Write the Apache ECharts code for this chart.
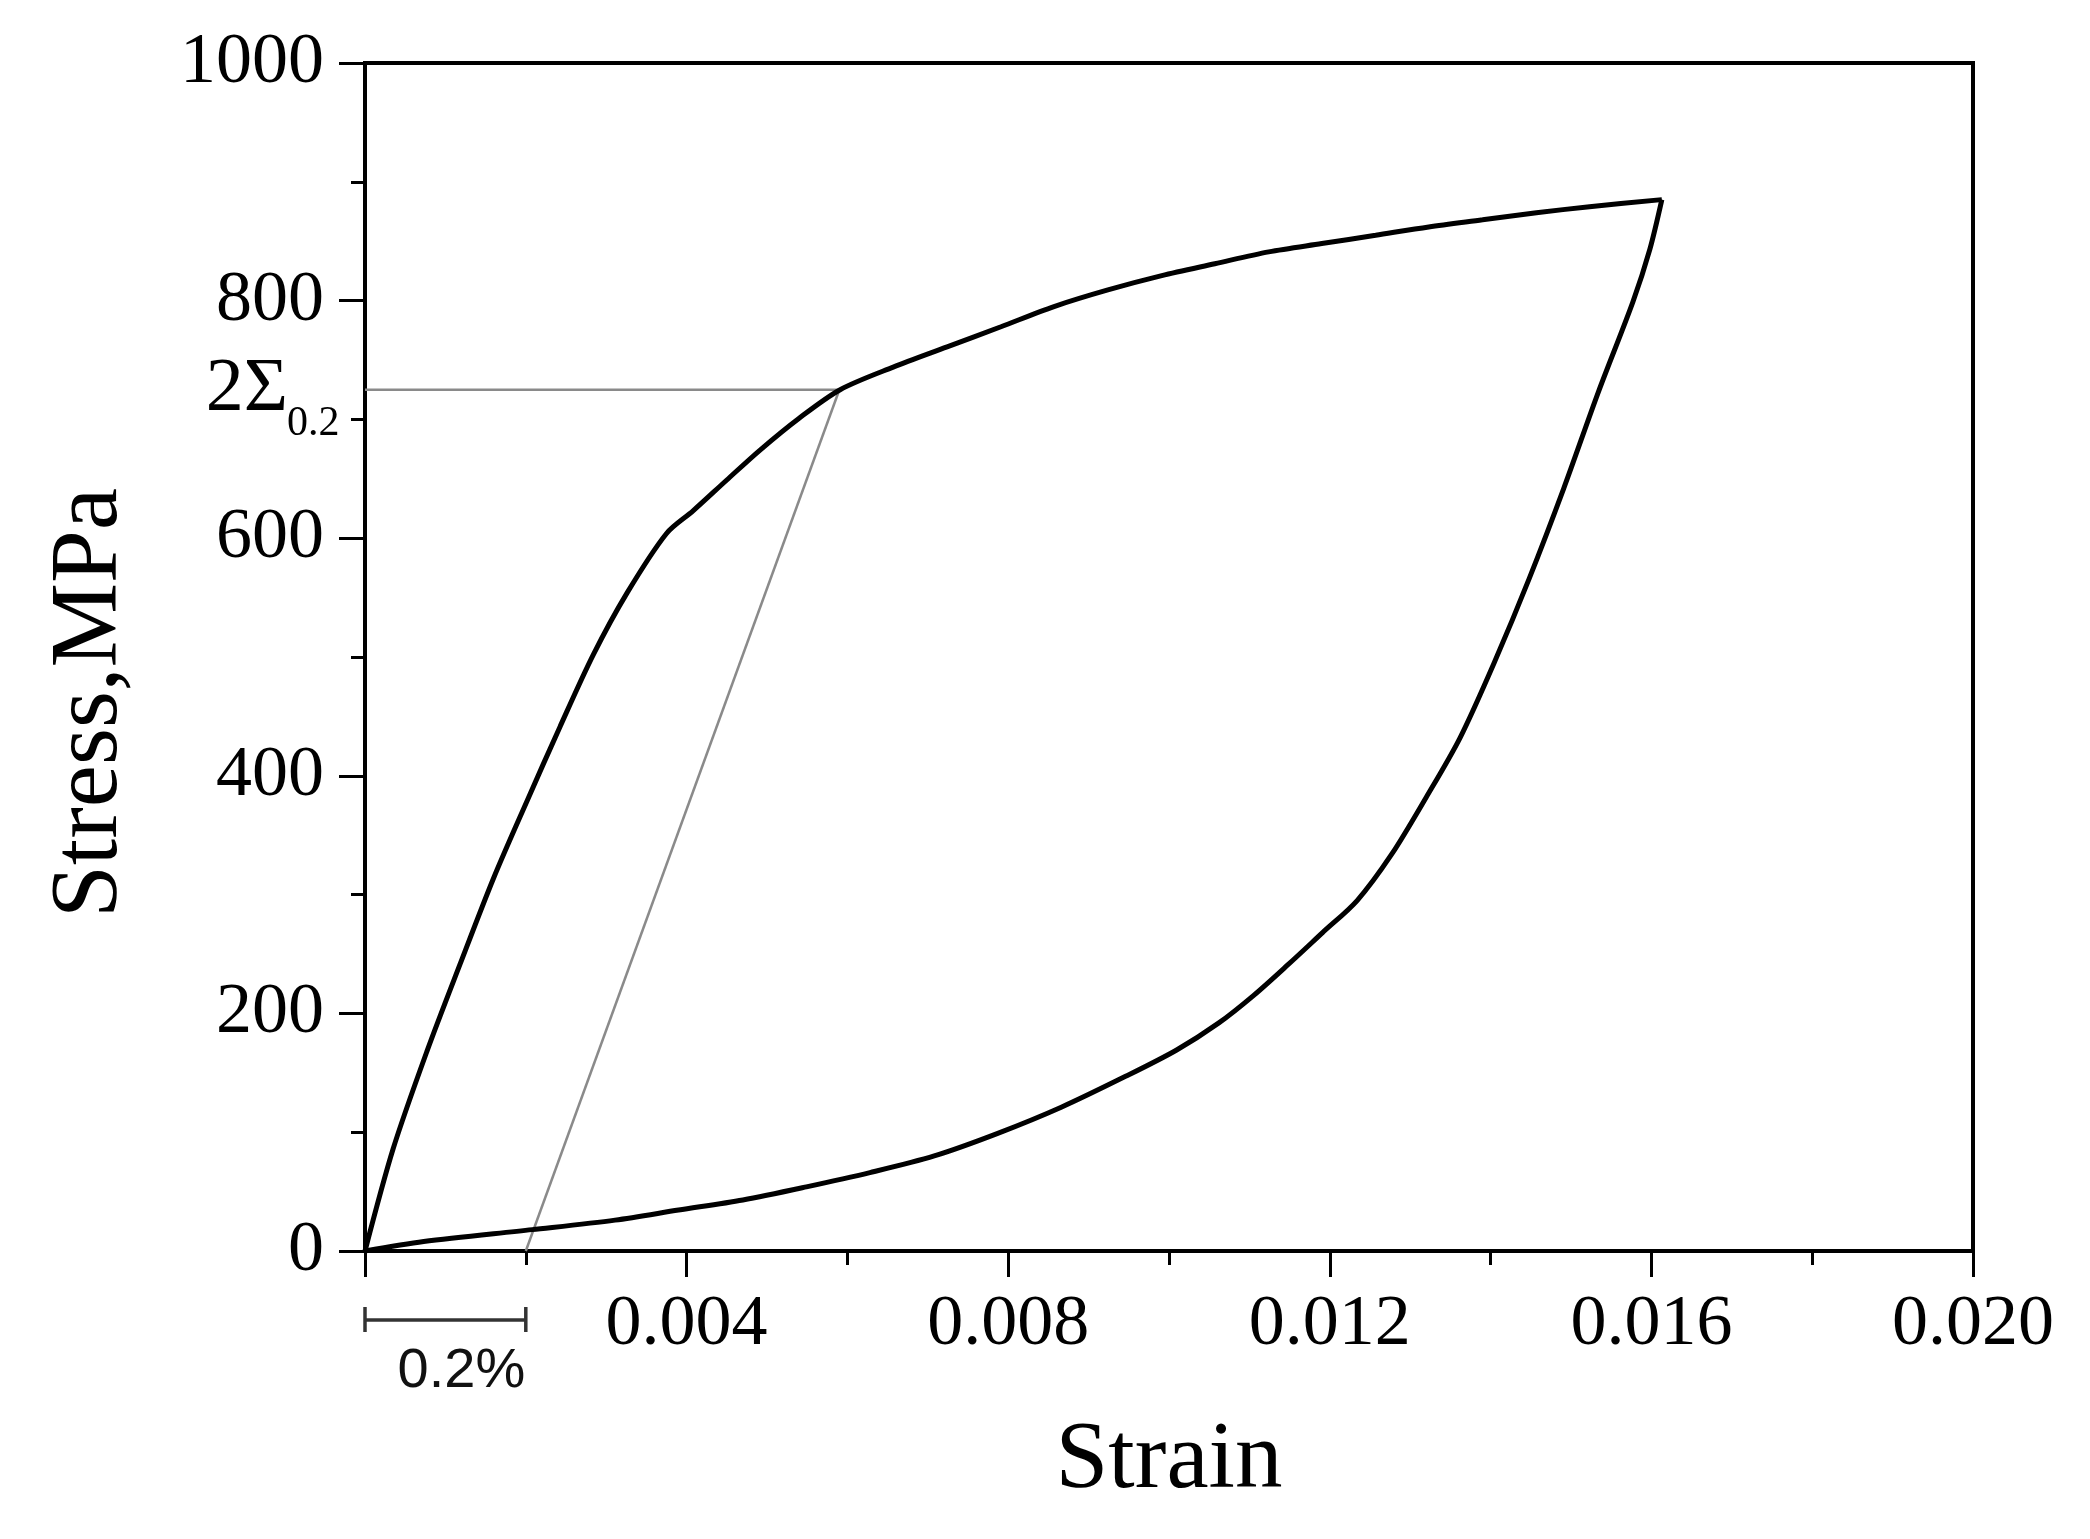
<!DOCTYPE html>
<html>
<head>
<meta charset="utf-8">
<script src="https://cdn.jsdelivr.net/npm/echarts@6/dist/echarts.min.js"></script>
<style>
html,body{margin:0;padding:0;background:#fff;}
#chart{width:2090px;height:1539px;}
</style>
</head>
<body>
<div id="chart"></div>
<script>
// ---- data ----
const upperStrain = [0, 0.00035, 0.00077, 0.00118, 0.00160, 0.00201, 0.00243, 0.00284, 0.00326, 0.00375, 0.00408, 0.00450, 0.00491, 0.00540, 0.00591, 0.00657, 0.00724, 0.00791, 0.00857, 0.00924, 0.00991, 0.01057, 0.01124, 0.01190, 0.01257, 0.01323, 0.01390, 0.01457, 0.01523, 0.01613];
const upperStress = [0, 86, 168, 241, 314, 378, 442, 502, 554, 604, 623, 649, 674, 701, 725, 744, 761, 778, 795, 809, 821, 831, 841, 848, 855, 862, 868, 874, 879, 885];
const lowerStrain = [0, 0.00073, 0.00208, 0.00311, 0.00390, 0.00470, 0.00549, 0.00628, 0.00708, 0.00787, 0.00866, 0.00946, 0.01009, 0.01062, 0.01105, 0.01148, 0.01191, 0.01234, 0.01277, 0.01320, 0.01362, 0.01405, 0.01448, 0.01491, 0.01534, 0.01577, 0.01598, 0.01613];
const lowerStress = [0, 8, 18, 26, 34.5, 43, 54, 66, 80, 99, 121, 147, 169, 192, 215, 241, 268, 295, 334, 382, 432, 496, 566, 642, 723, 799, 843, 885];
const offsetStrain = [0.002, 0.0059];
const offsetStress = [0, 725];
const proofStrain = [0, 0.0059];
const proofStress = [725, 725];
const scaleBarStrain = [0, 0.002];
const scaleBarLabel = '0.2%';
const proofLabelMain = '2Σ';
const proofLabelSub = '0.2';
const xTickInterval = 0.004;
const yTickInterval = 200;
const xName = 'Strain';
const yName = 'Stress,MPa';

const pairs = (xs, ys) => xs.map((x, i) => [x, ys[i]]);
const SERIF = '"Liberation Serif","Times New Roman",serif';

const chart = echarts.init(document.getElementById('chart'), null, {renderer: 'canvas'});
chart.setOption({
  animation: false,
  backgroundColor: '#fff',
  grid: {left: 365, right: 117, top: 63, bottom: 288, show: true, borderColor: '#000', borderWidth: 4, backgroundColor: 'transparent'},
  xAxis: {
    type: 'value', min: 0, max: 0.02, interval: xTickInterval,
    name: xName, nameLocation: 'middle', nameGap: 164,
    nameTextStyle: {fontFamily: SERIF, fontSize: 95, color: '#000'},
    axisLine: {show: true, lineStyle: {color: '#000', width: 4}},
    axisTick: {show: true, inside: false, length: 26, lineStyle: {color: '#000', width: 3}},
    minorTick: {show: true, splitNumber: 2, length: 14, lineStyle: {color: '#000', width: 3}},
    splitLine: {show: false}, minorSplitLine: {show: false},
    axisLabel: {fontFamily: SERIF, fontSize: 72, color: '#000', margin: 38,
      formatter: v => (v === 0 ? '' : v.toFixed(3))}
  },
  yAxis: {
    type: 'value', min: 0, max: 1000, interval: yTickInterval,
    name: yName, nameLocation: 'middle', nameGap: 226, nameRotate: 90,
    nameTextStyle: {fontFamily: SERIF, fontSize: 95, color: '#000', padding: [0, 92, 0, 0]},
    axisLine: {show: true, lineStyle: {color: '#000', width: 4}},
    axisTick: {show: true, inside: false, length: 26, lineStyle: {color: '#000', width: 3}},
    minorTick: {show: true, splitNumber: 2, length: 14, lineStyle: {color: '#000', width: 3}},
    splitLine: {show: false}, minorSplitLine: {show: false},
    axisLabel: {fontFamily: SERIF, fontSize: 72, color: '#000', margin: 41,
      formatter: v => String(v)}
  },
  series: [
    {type: 'line', data: pairs(proofStrain, proofStress), showSymbol: false, symbol: 'none',
      lineStyle: {color: '#8a8a8a', width: 2.5}, z: 2, silent: true},
    {type: 'line', data: pairs(offsetStrain, offsetStress), showSymbol: false, symbol: 'none',
      lineStyle: {color: '#8a8a8a', width: 2.5}, z: 2, silent: true},
    {type: 'line', data: pairs(upperStrain, upperStress), showSymbol: false, symbol: 'none',
      smooth: 0.3,
      lineStyle: {color: '#000', width: 5}, z: 3, silent: true},
    {type: 'line', data: pairs(lowerStrain, lowerStress), showSymbol: false, symbol: 'none',
      smooth: 0.3,
      lineStyle: {color: '#000', width: 5}, z: 3, silent: true}
  ]
});

// annotations positioned through the chart's own scales
const xa = chart.convertToPixel({xAxisIndex: 0}, scaleBarStrain[0]);
const xb = chart.convertToPixel({xAxisIndex: 0}, scaleBarStrain[1]);
const x0 = chart.convertToPixel({xAxisIndex: 0}, 0);
const yProof = chart.convertToPixel({yAxisIndex: 0}, proofStress[0]);
const barY = 1320;
chart.setOption({
  graphic: [
    {type: 'line', shape: {x1: xa, y1: barY, x2: xb, y2: barY}, style: {stroke: '#333', lineWidth: 3.5}},
    {type: 'line', shape: {x1: xa, y1: barY - 13, x2: xa, y2: barY + 12}, style: {stroke: '#333', lineWidth: 3.5}},
    {type: 'line', shape: {x1: xb, y1: barY - 13, x2: xb, y2: barY + 12}, style: {stroke: '#333', lineWidth: 3.5}},
    {type: 'text', x: (xa + xb) / 2 + 16, y: 1372, style: {text: scaleBarLabel, font: '56px "Liberation Sans", Arial, sans-serif', fill: '#111', align: 'center', verticalAlign: 'middle'}},
    {type: 'text', x: x0 - 77, y: yProof, style: {text: proofLabelMain, font: '76px ' + SERIF, fill: '#000', align: 'right', verticalAlign: 'middle'}},
    {type: 'text', x: x0 - 78, y: yProof + 34, style: {text: proofLabelSub, font: '42px ' + SERIF, fill: '#000', align: 'left', verticalAlign: 'middle'}}
  ]
});
</script>
</body>
</html>
